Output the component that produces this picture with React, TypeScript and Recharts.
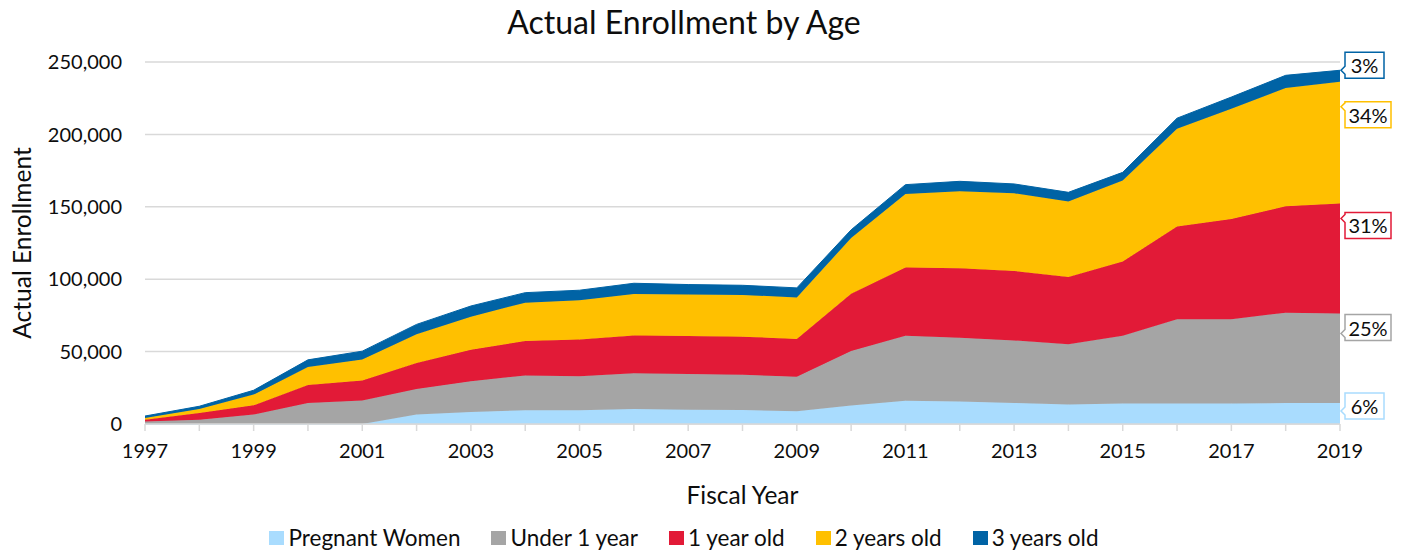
import React from 'react';
import { AreaChart, Area, XAxis, YAxis, CartesianGrid, Legend, LabelList } from 'recharts';

const years = [1997, 1998, 1999, 2000, 2001, 2002, 2003, 2004, 2005, 2006, 2007, 2008, 2009, 2010, 2011, 2012, 2013, 2014, 2015, 2016, 2017, 2018, 2019];
const pregnant = [0, 0, 0, 0, 0, 6500, 8300, 9500, 9500, 10300, 9900, 9700, 8800, 12700, 16100, 15600, 14500, 13400, 14100, 14100, 14100, 14500, 14500];
const under1 = [1800, 3000, 6500, 14500, 16200, 17700, 21300, 24000, 23500, 24700, 24700, 24300, 23900, 37800, 44800, 44000, 43200, 41600, 46800, 58200, 58200, 62400, 61800];
const oneYear = [1200, 4600, 6400, 12500, 13800, 18000, 21600, 23800, 25400, 26200, 26200, 26300, 26000, 39500, 47200, 48000, 48000, 46600, 51300, 64100, 69200, 73400, 76000];
const twoYears = [1200, 2800, 7400, 12300, 14600, 19700, 22900, 26500, 27100, 28600, 28600, 28800, 28700, 38400, 50800, 53100, 53600, 52100, 55900, 67500, 76200, 81700, 84000];
const threeYears = [1300, 1850, 3000, 5000, 5700, 6900, 7400, 6900, 6900, 7400, 6900, 6700, 6600, 5700, 6400, 6900, 6500, 6300, 5700, 7300, 8100, 8800, 8000];
const yTicks = [0, 50000, 100000, 150000, 200000, 250000];

const data = years.map((year, i) => ({
  year,
  pregnant: pregnant[i],
  under1: under1[i],
  oneYear: oneYear[i],
  twoYears: twoYears[i],
  threeYears: threeYears[i],
}));

const last = years.length - 1;
const total = pregnant[last] + under1[last] + oneYear[last] + twoYears[last] + threeYears[last];

// boxDy: box centre vs the point, notchDy: where the callout notch sits vs the point
const series = [
  { key: 'pregnant', name: 'Pregnant Women', color: '#A9DCFE', values: pregnant, boxDy: 3, notchDy: 8 },
  { key: 'under1', name: 'Under 1 year', color: '#A5A5A5', values: under1, boxDy: 14, notchDy: 20 },
  { key: 'oneYear', name: '1 year old', color: '#E21A37', values: oneYear, boxDy: 22, notchDy: 15 },
  { key: 'twoYears', name: '2 years old', color: '#FFC000', values: twoYears, boxDy: 33, notchDy: 24 },
  { key: 'threeYears', name: '3 years old', color: '#0063A5', values: threeYears, boxDy: -5, notchDy: 0 },
];

const makeCallout = (s: typeof series[number]) => (props: any) => {
  const { x, y, index } = props;
  if (index !== last) return null;
  const text = `${Math.round((s.values[last] / total) * 100)}%`;
  const w = text.length <= 2 ? 39 : 46;
  const h = 26;
  const L = x + 5;
  const R = L + w;
  const cy = y + s.boxDy;
  const T = cy - h / 2;
  const B = cy + h / 2;
  const ny = Math.min(Math.max(y + s.notchDy, T + 5), B - 5);
  const d = `M${L},${T} H${R} V${B} H${L} V${ny + 4} L${x + 1},${ny} L${L},${ny - 4} Z`;
  return (
    <g>
      <path d={d} fill="#fff" stroke={s.color} strokeWidth={1.5} />
      <text x={(L + R) / 2} y={cy} textAnchor="middle" dominantBaseline="central" fontSize={20} fill="#0d0d0d">
        {text}
      </text>
    </g>
  );
};

const renderLegend = () => (
  <div style={{ display: 'flex', justifyContent: 'center', width: 1352, fontSize: 22.5, color: '#0d0d0d' }}>
    {series.map((s) => (
      <div key={s.key} style={{ display: 'flex', alignItems: 'center', margin: '0 15.5px' }}>
        <span style={{ display: 'inline-block', width: 15, height: 14, background: s.color, marginRight: 4 }} />
        <span>{s.name}</span>
      </div>
    ))}
  </div>
);

export default function App() {
  return (
    <div style={{ position: 'relative', width: 1387, height: 544, fontFamily: 'Lato, sans-serif' }}>
      <div style={{ position: 'absolute', top: -3, left: 0, width: 1352, textAlign: 'center', fontSize: 32, lineHeight: '34px', color: '#0d0d0d' }}>
        Actual Enrollment by Age
      </div>
      <AreaChart width={1387} height={544} data={data} margin={{ top: 54, right: 55, left: 0, bottom: 1 }}>
        <CartesianGrid vertical={false} stroke="#d9d9d9" strokeWidth={1.5} />
        <XAxis
          dataKey="year"
          interval={0}
          tickSize={7}
          tickMargin={13}
          tickLine={{ stroke: '#d9d9d9', strokeWidth: 1.5 }}
          axisLine={{ stroke: '#d9d9d9', strokeWidth: 1.5 }}
          tick={{ fill: '#0d0d0d', fontSize: 20 }}
          tickFormatter={(v: number) => (v % 2 === 1 ? String(v) : '')}
          height={100}
          label={{ value: 'Fiscal Year', position: 'insideBottom', offset: 20, fill: '#0d0d0d', fontSize: 24.5 }}
        />
        <YAxis
          width={137}
          domain={[0, 250000]}
          ticks={yTicks}
          axisLine={false}
          tickLine={false}
          tickSize={6}
          tickMargin={17}
          tick={{ fill: '#0d0d0d', fontSize: 20 }}
          tickFormatter={(v: number) => v.toLocaleString('en-US')}
          label={{ value: 'Actual Enrollment', angle: -90, position: 'insideLeft', offset: 14, style: { textAnchor: 'middle' }, fill: '#0d0d0d', fontSize: 24.5 }}
        />
        <Legend verticalAlign="bottom" content={renderLegend} wrapperStyle={{ left: 0 }} />
        {series.map((s) => (
          <Area
            key={s.key}
            type="linear"
            dataKey={s.key}
            name={s.name}
            stackId="1"
            fill={s.color}
            fillOpacity={1}
            stroke={s.color}
            strokeWidth={1}
            isAnimationActive={false}
          >
            <LabelList dataKey={s.key} content={makeCallout(s)} />
          </Area>
        ))}
      </AreaChart>
    </div>
  );
}
